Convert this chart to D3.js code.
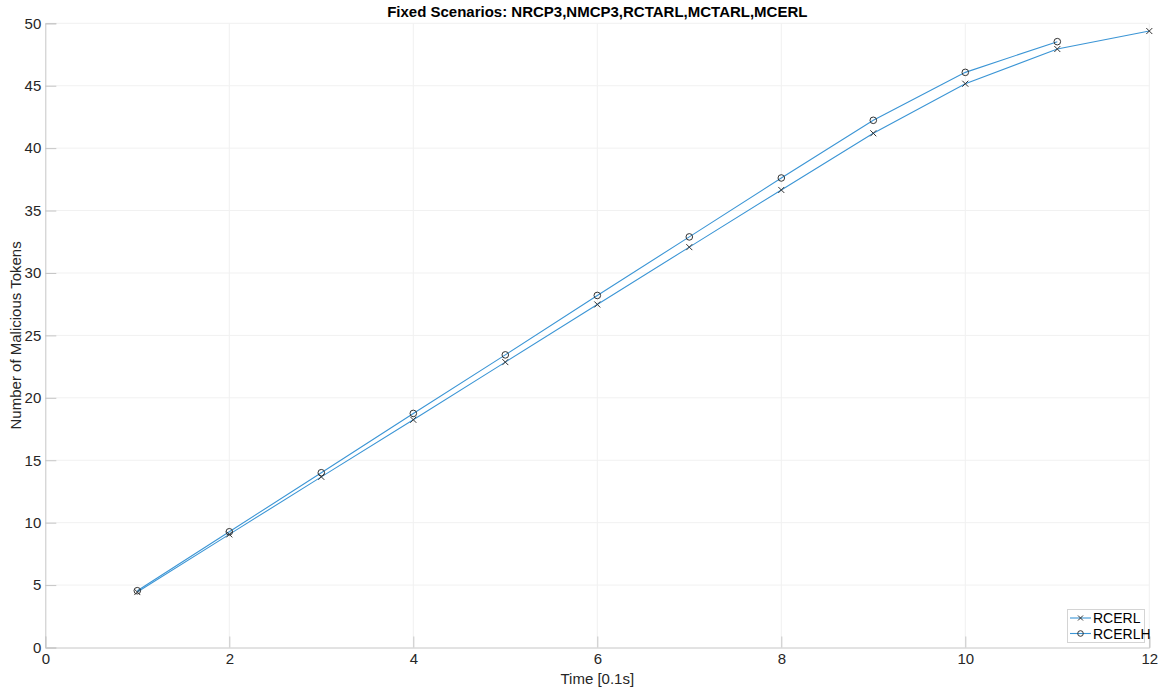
<!DOCTYPE html>
<html>
<head>
<meta charset="utf-8">
<script src="https://cdn.jsdelivr.net/npm/d3@7"></script>
<style>
  body { margin: 0; background: #fff; }
  svg { display: block; font-family: "Liberation Sans", Arial, Helvetica, sans-serif; }
</style>
</head>
<body>
<div id="chart"></div>
<script>
// Дані
const timeSteps = [1, 2, 3, 4, 5, 6, 7, 8, 9, 10, 11, 12];
const rcerl = [4.44, 9.06, 13.67, 18.24, 22.86, 27.48, 32.07, 36.65, 41.19, 45.16, 47.94, 49.38];
const rcerlhTime = [1, 2, 3, 4, 5, 6, 7, 8, 9, 10, 11];
const rcerlh = [4.55, 9.27, 14.0, 18.75, 23.44, 28.2, 32.89, 37.61, 42.23, 46.07, 48.53];
const xTicks = [0, 2, 4, 6, 8, 10, 12];
const yTicks = [0, 5, 10, 15, 20, 25, 30, 35, 40, 45, 50];
const seriesNames = ['RCERL', 'RCERLH'];

const WIDTH = 1165;
const HEIGHT = 693;
const LEFT = 45.3, RIGHT = 1149.3, TOP = 23.3, BOTTOM = 647.5;
const LINE_COLOR = '#3b95d5';
const MARK_COLOR = '#333';
const TEXT_COLOR = '#262626';

const svg = d3.select('#chart')
    .append('svg')
    .attr('width', WIDTH)
    .attr('height', HEIGHT);

const x = d3.scaleLinear().domain([0, 12]).range([LEFT, RIGHT]);
const y = d3.scaleLinear().domain([0, 50]).range([BOTTOM, TOP]);

// Сітка
svg.append('g')
    .selectAll('line')
    .data(xTicks.slice(1))
    .join('line')
    .attr('x1', d => x(d)).attr('x2', d => x(d))
    .attr('y1', TOP).attr('y2', BOTTOM)
    .attr('stroke', '#f1f1f1');

svg.append('g')
    .selectAll('line')
    .data(yTicks.slice(1))
    .join('line')
    .attr('x1', LEFT).attr('x2', RIGHT)
    .attr('y1', d => y(d)).attr('y2', d => y(d))
    .attr('stroke', '#f1f1f1');

// Осі
const xAxis = d3.axisBottom(x).tickValues(xTicks).tickSize(-11).tickPadding(6).tickFormat(d3.format('d'));
const yAxis = d3.axisLeft(y).tickValues(yTicks).tickSize(-11).tickPadding(18).tickFormat(d3.format('d'));

const gx = svg.append('g')
    .attr('transform', `translate(0,${BOTTOM})`)
    .call(xAxis);
const gy = svg.append('g')
    .attr('transform', `translate(${LEFT},0)`)
    .call(yAxis);

[gx, gy].forEach(g => {
    g.select('.domain').attr('stroke', '#c6c6c6');
    g.selectAll('.tick line').attr('stroke', '#c6c6c6');
    g.selectAll('.tick text')
        .attr('fill', TEXT_COLOR)
        .style('font-size', '15px');
});
gy.selectAll('.tick text').attr('x', -4);
gx.selectAll('.tick text').attr('y', 6);

// Підписи
svg.append('text')
    .attr('x', (LEFT + RIGHT) / 2)
    .attr('y', 17)
    .attr('text-anchor', 'middle')
    .attr('font-weight', 'bold')
    .attr('font-size', '15px')
    .attr('fill', '#000')
    .text('Fixed Scenarios: NRCP3,NMCP3,RCTARL,MCTARL,MCERL');

svg.append('text')
    .attr('x', (LEFT + RIGHT) / 2)
    .attr('y', 684)
    .attr('text-anchor', 'middle')
    .attr('font-size', '15px')
    .attr('fill', TEXT_COLOR)
    .text('Time [0.1s]');

svg.append('text')
    .attr('transform', `translate(21,${(TOP + BOTTOM) / 2}) rotate(-90)`)
    .attr('text-anchor', 'middle')
    .attr('font-size', '15px')
    .attr('fill', TEXT_COLOR)
    .text('Number of Malicious Tokens');

// Лінії
const line = d3.line().x(d => x(d[0])).y(d => y(d[1]));
const dataL = timeSteps.map((t, i) => [t, rcerl[i]]);
const dataH = rcerlhTime.map((t, i) => [t, rcerlh[i]]);

[dataL, dataH].forEach(data => {
    svg.append('path')
        .datum(data)
        .attr('fill', 'none')
        .attr('stroke', LINE_COLOR)
        .attr('stroke-width', 1.1)
        .attr('d', line);
});

// Маркери
function cross(g, cx, cy, s) {
    g.append('path')
        .attr('d', `M${cx - s},${cy - s}L${cx + s},${cy + s}M${cx - s},${cy + s}L${cx + s},${cy - s}`)
        .attr('stroke', MARK_COLOR)
        .attr('stroke-width', 1)
        .attr('fill', 'none');
}
function circle(g, cx, cy, r) {
    g.append('circle')
        .attr('cx', cx).attr('cy', cy).attr('r', r)
        .attr('stroke', MARK_COLOR)
        .attr('stroke-width', 1)
        .attr('fill', 'none');
}

const marks = svg.append('g');
dataL.forEach(d => cross(marks, x(d[0]), y(d[1]), 3));
dataH.forEach(d => circle(marks, x(d[0]), y(d[1]), 3.3));

// Легенда
const lg = svg.append('g');
lg.append('rect')
    .attr('x', 1067.5).attr('y', 609.5)
    .attr('width', 77).attr('height', 33)
    .attr('fill', '#fff')
    .attr('stroke', '#d4d4d4');

seriesNames.forEach((name, i) => {
    const ly = 618 + i * 15.5;
    lg.append('line')
        .attr('x1', 1070).attr('x2', 1091)
        .attr('y1', ly).attr('y2', ly)
        .attr('stroke', LINE_COLOR)
        .attr('stroke-width', 1.1);
    if (i === 0) cross(lg, 1080.5, ly, 2.5);
    else circle(lg, 1080.5, ly, 2.8);
    lg.append('text')
        .attr('x', 1093)
        .attr('y', ly + 5)
        .attr('font-size', '14px')
        .attr('fill', '#000')
        .text(name);
});
</script>
</body>
</html>
